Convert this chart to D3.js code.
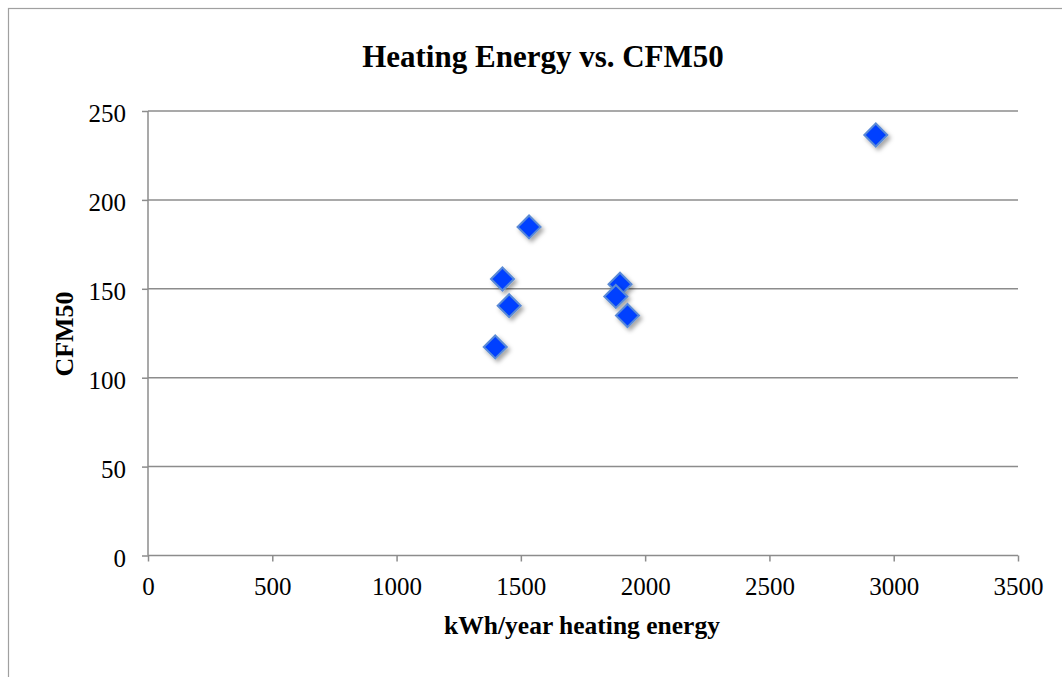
<!DOCTYPE html>
<html><head><meta charset="utf-8">
<script src="https://cdn.jsdelivr.net/npm/d3@7"></script>
<style>body{margin:0;background:#fff;} svg{display:block;}</style>
</head><body>
<svg id="c" width="1062" height="677"></svg>
<script>
const xValues = [2928, 1533, 1426, 1453, 1397, 1899, 1882, 1929];
const yValues = [236.5, 184.8, 155.5, 140.5, 117.3, 152.6, 145.7, 135.0];
const xTicks = [0, 500, 1000, 1500, 2000, 2500, 3000, 3500];
const yTicks = [0, 50, 100, 150, 200, 250];
const title = "Heating Energy vs. CFM50";
const xLabel = "kWh/year heating energy";
const yLabel = "CFM50";

const svg = d3.select("#c");
const defs = svg.append("defs");
const f = defs.append("filter").attr("id","sh").attr("x","-50%").attr("y","-50%").attr("width","200%").attr("height","200%");
f.append("feDropShadow").attr("dx",2.5).attr("dy",3).attr("stdDeviation",2).attr("flood-color","#000").attr("flood-opacity",0.35);

// outer frame
svg.append("rect").attr("x",8.5).attr("y",8.5).attr("width",1100).attr("height",700)
  .attr("fill","none").attr("stroke","#a0a0a0").attr("stroke-width",1.2);

const x = d3.scaleLinear().domain([0,3500]).range([148,1018]);
const y = d3.scaleLinear().domain([0,250]).range([555.5,111]);
const font = "'Liberation Serif','Times New Roman',serif";
const gridColor = "#8c8c8c";

// gridlines
svg.append("g").selectAll("line").data(yTicks.filter(d=>d>0)).join("line")
  .attr("x1",x(0)).attr("x2",x(3500)).attr("y1",d=>y(d)).attr("y2",d=>y(d))
  .attr("stroke",gridColor).attr("stroke-width",1.5);

// axes
const xAxis = d3.axisBottom(x).tickValues(xTicks).tickSize(6).tickPadding(16).tickFormat(d3.format("d"));
const gx = svg.append("g").attr("transform",`translate(0,${y(0)})`).call(xAxis);
const yAxis = d3.axisLeft(y).tickValues(yTicks).tickSize(6).tickPadding(16).tickFormat(d3.format("d"));
const gy = svg.append("g").attr("transform",`translate(${x(0)},0)`).call(yAxis);
[gx,gy].forEach(g=>{
  g.select(".domain").attr("stroke",gridColor).attr("stroke-width",1.5);
  g.selectAll(".tick line").attr("stroke",gridColor).attr("stroke-width",1.5);
  g.selectAll("text").attr("font-family",font).attr("font-size",25).attr("fill","#000");
});
gy.selectAll("text").attr("dy","0.42em");
gx.select(".domain").attr("d",`M${x(0)},0H${x(3500)}`);
gy.select(".domain").attr("d",`M0,${y(0)}V${y(250)}`);

// points
const pts = xValues.map((v,i)=>({x:v,y:yValues[i]}));
const s = 11.5;
svg.append("g").selectAll("path").data(pts).join("path")
  .attr("d",d=>{const cx=x(d.x), cy=y(d.y); return `M${cx},${cy-s}L${cx+s},${cy}L${cx},${cy+s}L${cx-s},${cy}Z`;})
  .attr("fill","#0040ff").attr("stroke","#5a8ad6").attr("stroke-width",2)
  .attr("filter","url(#sh)");

// title
svg.append("text").attr("x",543).attr("y",67).attr("text-anchor","middle")
  .attr("font-family",font).attr("font-weight","bold").attr("font-size",31).text(title);
svg.append("text").attr("x",582).attr("y",634).attr("text-anchor","middle")
  .attr("font-family",font).attr("font-weight","bold").attr("font-size",25.5).text(xLabel);
svg.append("text").attr("transform","translate(73,334) rotate(-90)").attr("text-anchor","middle")
  .attr("font-family",font).attr("font-weight","bold").attr("font-size",26).text(yLabel);
</script>
</body></html>
